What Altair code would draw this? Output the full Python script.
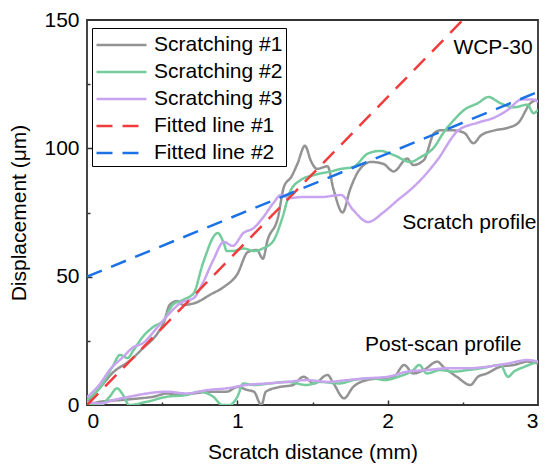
import altair as alt
import pandas as pd

# ---------------- data ----------------
series_names = ["Scratching #1", "Scratching #2", "Scratching #3", "Fitted line #1", "Fitted line #2"]
series_colors = ["#939393", "#74cc9c", "#c8a4ef", "#f03c3c", "#1c72e4"]

# Scratch profiles
s1_x = [0, 0.09, 0.17, 0.29, 0.37, 0.47, 0.51, 0.55, 0.6, 0.64, 0.73, 0.82, 0.91, 1.0, 1.07, 1.13, 1.17, 1.2,
        1.27, 1.31, 1.36, 1.4, 1.45, 1.49, 1.53, 1.6, 1.64, 1.70, 1.75, 1.81, 1.89, 1.97, 2.04, 2.13, 2.17, 2.24,
        2.31, 2.35, 2.44, 2.51, 2.57, 2.62, 2.71, 2.8, 2.87, 2.95, 2.99]
s1_y = [1, 7, 12.5, 17.5, 22, 28, 32, 39, 40.5, 39, 40, 43, 46, 51, 59.6, 60.4, 57, 64,
        73, 85, 89, 94, 101, 95, 92, 93, 84, 75, 84, 91.5, 94.7, 94, 91, 96, 93.5, 95.4,
        106, 107, 107, 106, 102, 105, 107, 108, 110, 117.6, 119]

s2_x = [0, 0.09, 0.17, 0.22, 0.27, 0.31, 0.37, 0.44, 0.51, 0.57, 0.64, 0.71, 0.77, 0.87, 0.91, 0.93, 0.97,
        1.04, 1.11, 1.17, 1.24, 1.30, 1.35, 1.42, 1.51, 1.62, 1.69, 1.77, 1.87, 1.95, 2.04, 2.15, 2.22,
        2.31, 2.37, 2.44, 2.51, 2.6, 2.67, 2.75, 2.84, 2.93, 2.97, 3.0]
s2_y = [2, 7, 15, 19.5, 18.3, 21.4, 26.5, 30.4, 33, 39, 41, 43.6, 55, 67, 63, 60, 60,
        61, 60, 61, 64, 73, 83, 87.6, 89.6, 91, 92, 92.7, 98, 99, 97.4, 94.7, 96.6,
        100.5, 106, 111, 115, 117.6, 120, 117.6, 116, 117, 113.7, 115]

s3_x = [0, 0.09, 0.15, 0.24, 0.31, 0.37, 0.47, 0.55, 0.62, 0.71, 0.77, 0.84, 0.91, 0.97, 1.04, 1.11, 1.17,
        1.24, 1.29, 1.35, 1.42, 1.55, 1.69, 1.77, 1.87, 1.97, 2.07, 2.15, 2.24, 2.33, 2.47, 2.6, 2.71,
        2.8, 2.89, 2.97, 3.0]
s3_y = [3, 8.5, 13.6, 18.7, 22.6, 24, 30.4, 35.8, 39.7, 41.7, 47.5, 56.5, 63.5, 62, 67, 69, 73,
        78.7, 81.8, 80.6, 81, 81, 81.8, 76, 71.3, 75, 80, 83.8, 89, 95.4, 107, 110, 112,
        115, 119, 119, 118]

# Post-scan profiles
p1_x = [0, 0.09, 0.24, 0.35, 0.44, 0.53, 0.62, 0.71, 0.82, 0.93, 1.0, 1.07, 1.11, 1.16, 1.19, 1.28, 1.37,
        1.44, 1.51, 1.6, 1.64, 1.71, 1.77, 1.86, 1.95, 2.04, 2.11, 2.17, 2.24, 2.33, 2.37, 2.46, 2.55,
        2.6, 2.66, 2.75, 2.84, 2.93, 3.0]
p1_y = [0, 1.3, 2, 2.6, 3.2, 4.5, 3.9, 4.5, 5.2, 5.2, 7, 5.8, 5.2, 0, 5.2, 7, 7.8,
        11, 8.4, 11.7, 8.4, 2.6, 7, 9.7, 10.4, 11, 15.6, 12.3, 13.6, 16.9, 14.9, 11, 7.8,
        11, 12.3, 14.9, 15.6, 16.9, 16.2]

p2_x = [0, 0.09, 0.15, 0.2, 0.24, 0.28, 0.4, 0.53, 0.66, 0.75, 0.84, 0.9, 0.95, 1.0, 1.04, 1.11, 1.22,
        1.33, 1.46, 1.55, 1.68, 1.77, 1.9, 1.98, 2.07, 2.17, 2.21, 2.26, 2.35, 2.44, 2.53, 2.62, 2.75,
        2.8, 2.84, 2.91, 3.0]
p2_y = [0, 0, 3.2, 6.5, 3.9, 0, 1.3, 3.2, 3.9, 5.2, 3.2, 0, 0, 3.2, 8.4, 7.8, 8.4,
        9, 7.8, 9, 8.4, 9.7, 10.4, 9.7, 11, 13.6, 15.6, 12.3, 13.6, 13, 13.6, 14.3, 15.6,
        11, 13, 14.9, 16.9]

p3_x = [0, 0.09, 0.18, 0.28, 0.4, 0.53, 0.66, 0.8, 0.93, 1.06, 1.2, 1.33, 1.46, 1.6, 1.73, 1.86, 2.0,
        2.13, 2.26, 2.4, 2.53, 2.66, 2.8, 2.93, 3.0]
p3_y = [1.3, 0.6, 2, 3.2, 4.5, 5.2, 4.5, 5.8, 6.5, 7.8, 8.4, 9, 9.7, 9, 9.7, 10.4, 11,
        13, 13.6, 14.3, 14.3, 14.9, 16.2, 17.5, 16.9]

# Fitted lines
f1_x = [0, 2.5]
f1_y = [0, 150]
f2_x = [0, 3.0]
f2_y = [50, 122]

# Annotations
ann_text = ["WCP-30", "Scratch profile", "Post-scan profile"]
ann_x = [2.965, 2.99, 2.89]
ann_y = [139, 70.9, 23.4]

x_major = [1, 2]
x_minor = [0.5, 1.5, 2.5]
y_major = [50, 100]
y_minor = [25, 75, 125]

# ---------------- tables ----------------
rows = []
for name, seg, xs, ys in [
    ("Scratching #1", "s", s1_x, s1_y), ("Scratching #2", "s", s2_x, s2_y), ("Scratching #3", "s", s3_x, s3_y),
    ("Scratching #1", "p", p1_x, p1_y), ("Scratching #2", "p", p2_x, p2_y), ("Scratching #3", "p", p3_x, p3_y),
]:
    for i, (a, b) in enumerate(zip(xs, ys)):
        rows.append({"series": name, "seg": seg, "x": a, "y": b, "i": i})
scr = pd.DataFrame(rows)

frows = []
for name, xs, ys in [("Fitted line #1", f1_x, f1_y), ("Fitted line #2", f2_x, f2_y)]:
    for i, (a, b) in enumerate(zip(xs, ys)):
        frows.append({"series": name, "x": a, "y": b, "i": i})
fit = pd.DataFrame(frows)

ann = pd.DataFrame({"x": ann_x, "y": ann_y, "text": ann_text})

FONT = "Liberation Sans"
FS = 21
xscale = alt.Scale(domain=[0, 3], nice=False, zero=False)
yscale = alt.Scale(domain=[0, 150], nice=False)

legend = alt.Legend(
    orient="none", legendX=5, legendY=8, title=None,
    symbolType="M-1,0H3", symbolSize=625, symbolStrokeWidth=2.5,
    labelFontSize=FS, labelFont=FONT, labelColor="black", labelOffset=31,
    strokeColor="black", fillColor="white", padding=3, rowPadding=3,
    labelLimit=300,
)
color = alt.Color("series:N", scale=alt.Scale(domain=series_names, range=series_colors), legend=legend)
dash = alt.StrokeDash(
    "series:N",
    scale=alt.Scale(domain=series_names, range=[[1, 0], [1, 0], [1, 0], [16, 10], [16, 10]]),
    legend=legend,
)

main_x_axis = alt.Axis(orient="bottom", values=[0, 1, 2, 3], ticks=False, domain=False, grid=False,
                       labelFontSize=FS, labelFont=FONT, labelColor="black", labelPadding=5,
                       titleFontSize=FS, titleFont=FONT, titleFontWeight="normal", titleColor="black",
                       titlePadding=10, format="d")
main_y_axis = alt.Axis(orient="left", values=[0, 50, 100, 150], ticks=False, domain=False, grid=False,
                       labelFontSize=FS, labelFont=FONT, labelColor="black", labelPadding=8,
                       titleFontSize=FS, titleFont=FONT, titleFontWeight="normal", titleColor="black",
                       titlePadding=14)

def tick_axis_x(vals, size):
    return alt.Axis(orient="top", offset=-385, values=vals, labels=False, domain=False, grid=False,
                    ticks=True, tickSize=size, tickColor="#333333", tickWidth=1.5)

def tick_axis_y(vals, size):
    return alt.Axis(orient="right", offset=-451, values=vals, labels=False, domain=False, grid=False,
                    ticks=True, tickSize=size, tickColor="#333333", tickWidth=1.5)

scratch = alt.Chart(scr).mark_line(strokeWidth=2.5, clip=True, interpolate="monotone").encode(
    x=alt.X("x:Q", scale=xscale, axis=main_x_axis, title="Scratch distance (mm)"),
    y=alt.Y("y:Q", scale=yscale, axis=main_y_axis, title="Displacement (μm)"),
    color=color,
    strokeDash=dash,
    detail="seg:N",
    order="i:Q",
)

fitted = alt.Chart(fit).mark_line(strokeWidth=2.5, clip=True).encode(
    x=alt.X("x:Q", scale=xscale, axis=tick_axis_x(x_major, 5), title=None),
    y=alt.Y("y:Q", scale=yscale, axis=tick_axis_y(y_major, 5), title=None),
    color=color,
    strokeDash=dash,
    order="i:Q",
)

texts = alt.Chart(ann).mark_text(align="right", baseline="middle", fontSize=FS, font=FONT, color="black").encode(
    x=alt.X("x:Q", scale=xscale, axis=tick_axis_x(x_minor, 3), title=None),
    y=alt.Y("y:Q", scale=yscale, axis=tick_axis_y(y_minor, 3), title=None),
    text="text:N",
)

chart = alt.layer(scratch, fitted, texts).resolve_axis(x="independent", y="independent").properties(
    width=451, height=385,
    autosize=alt.AutoSizeParams(type="none"),
    padding={"left": 79, "top": 12, "right": 4, "bottom": 60},
    background="white",
).configure_view(stroke="#333333", strokeWidth=1.8)

chart.save("out.html", embed_options={"renderer": "svg", "actions": False})
